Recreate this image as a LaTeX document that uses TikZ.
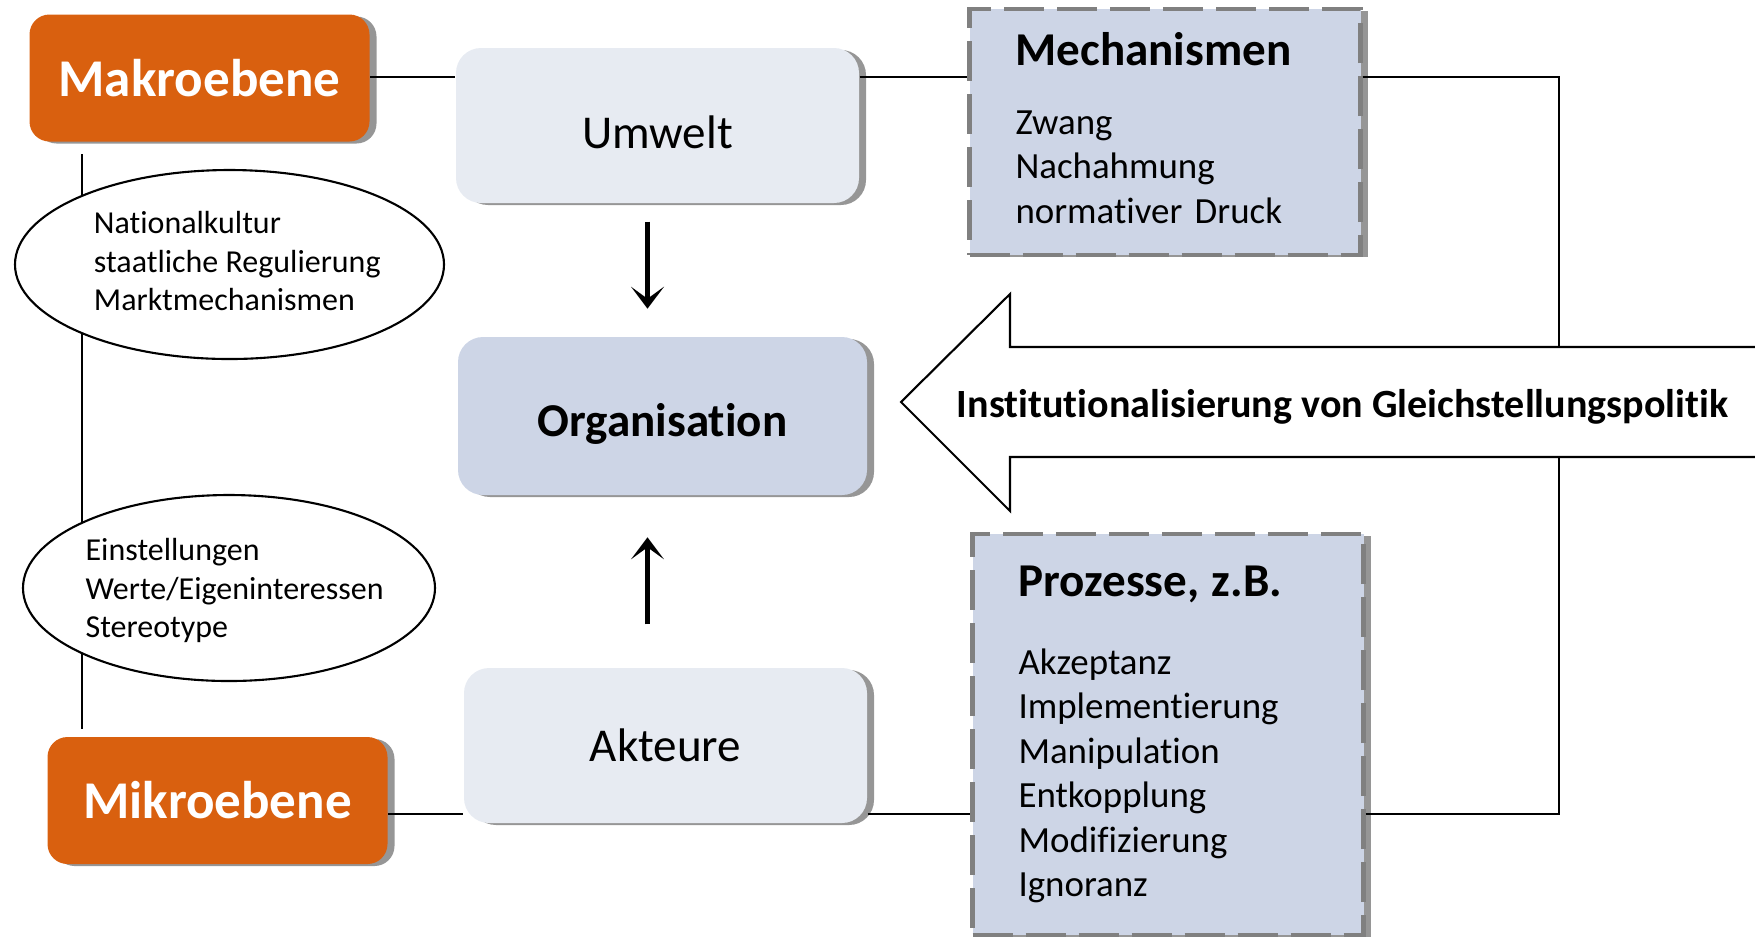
\documentclass[tikz,border=0pt]{standalone}
\usepackage{fontspec}
\setmainfont{Carlito}[Ligatures=NoCommon]
\usepackage{tikz}
\usetikzlibrary{shapes.geometric, arrows.meta, positioning, calc, shadows}
\definecolor{myorange}{RGB}{217,96,15}
\definecolor{mylight}{RGB}{231,235,242}
\definecolor{myblue}{RGB}{205,213,230}
\definecolor{mygray}{RGB}{128,128,128}
\definecolor{myshadow}{RGB}{150,150,150}
\tikzset{
  boxshadow/.style={drop shadow={shadow xshift=0.7mm, shadow yshift=-0.2mm,
    fill=myshadow, opacity=1}},
  levelbox/.style={rectangle, fill=myorange, text=white,
    minimum width=3.4cm, minimum height=1.27cm, inner sep=0pt,
    font=\fontsize{15.1}{18}\selectfont\bfseries, rounded corners=2mm, boxshadow},
  lightbox/.style={rectangle, fill=mylight,
    minimum width=4.03cm, minimum height=1.55cm, inner sep=0pt,
    font=\fontsize{13.4}{16}\selectfont, rounded corners=2.5mm, boxshadow},
  orgbox/.style={lightbox, fill=myblue, minimum width=4.09cm, minimum height=1.58cm,
    font=\fontsize{13.4}{16}\selectfont\bfseries},
  dashbox/.style={rectangle, fill=myblue, draw=mygray, line width=1.15pt,
    dash pattern=on 4mm off 1.3mm, align=left, text width=2.99cm,
    inner xsep=0.46cm, inner ysep=0pt, minimum width=3.91cm,
    font=\fontsize{10.5}{12.65}\selectfont, boxshadow},
  noteell/.style={ellipse, draw=black, fill=white, line width=0.6pt,
    inner xsep=-1mm, inner ysep=0pt, font=\fontsize{9.1}{11}\selectfont},
  line/.style={line width=0.6pt, color=black},
  flow/.style={-{Stealth[length=2.2mm, width=3.3mm, inset=1.2mm]}, line width=1.4pt},
  bigarrow/.style={line width=0.6pt, fill=white, line join=miter}
}
\newcommand{\boxtitle}[1]{{\fontsize{13.4}{16}\selectfont\bfseries #1}}

\begin{document}
\begin{tikzpicture}
  \useasboundingbox (0,0) rectangle (17.55,-9.37);

  % Ebenen links
  \node[levelbox] (makro) at (1.995,-0.78) {Makroebene};
  \node[levelbox] (mikro) at (2.175,-8.005) {Mikroebene};

  % mittlere Spalte
  \node[lightbox, text height=4.6mm, text depth=0pt] (umwelt) at (6.575,-1.255) {Umwelt};
  \node[orgbox, text height=4.9mm] (orga) at (6.625,-4.16) {Organisation};
  \node[lightbox] (akteure) at (6.655,-7.455) {Akteure};

  % gestrichelte Kaesten rechts
  \node[dashbox, minimum height=2.46cm] (mech) at (11.65,-1.32)
    {\boxtitle{Mechanismen}\\[7pt] Zwang\\ Nachahmung\\ normativer Druck\rule[-2.4pt]{0pt}{0pt}};
  \node[dashbox, minimum height=4.01cm] (proz) at (11.68,-7.345)
    {\boxtitle{Prozesse, z.B.}\\[9.5pt] Akzeptanz\\ Implementierung\\ Manipulation\\
     Entkopplung\\ Modifizierung\\ Ignoranz};

  % senkrechte Linie zwischen den Ebenen, Ellipsen liegen darueber
  \coordinate (vx) at (0.82,0);
  \draw[line] ($(makro.south -| vx)+(0,-0.12)$) -- ($(mikro.north -| vx)+(0,0.07)$);
  \node[noteell, minimum width=4.29cm, minimum height=1.89cm] (kultur) at (2.295,-2.645)
    {\begin{tabular}{@{\hspace{1.56mm}}l@{}}
       Nationalkultur\\ staatliche Regulierung\\ Marktmechanismen
     \end{tabular}};
  \node[noteell, minimum width=4.12cm, minimum height=1.86cm] (werte) at (2.29,-5.88)
    {\begin{tabular}{@{\hspace{1.12mm}}l@{}}
       \rule{0pt}{9.7pt}Einstellungen\\ Werte/Eigeninteressen\\ Stereotype
     \end{tabular}};

  % grosser Pfeil
  \draw[bigarrow] (17.7,-3.47) -- (10.10,-3.47) -- (10.10,-2.94) -- (9.01,-4.02)
    -- (10.10,-5.11) -- (10.10,-4.57) -- (17.7,-4.57);
  \coordinate (shafttop) at (15.59,-3.47);
  \coordinate (shaftbot) at (15.59,-4.57);
  \node[font=\fontsize{11.4}{14}\selectfont\bfseries] (inst) at (13.425,-4.065)
    {Institutionalisierung von Gleichstellungspolitik};

  % Verbindungen
  \coordinate (topy) at (0,-0.77);
  \coordinate (lowy) at (0,-8.14);
  \draw[line] (makro.east |- topy) -- (umwelt.west |- topy);
  \draw[line] (umwelt.east |- topy) -- (mech.west |- topy);
  \draw[line] (mech.east |- topy) -| (shafttop);
  \draw[line] (mikro.east |- lowy) -- (akteure.west |- lowy);
  \draw[line] (akteure.east |- lowy) -- (proz.west |- lowy);
  \draw[line] (proz.east |- lowy) -| (shaftbot);

  % Pfeile zur Organisation
  \draw[flow] ([xshift=-1mm,yshift=-1.8mm]umwelt.south) -- ++(0,-0.87);
  \draw[flow] ([xshift=-1.8mm,yshift=4.3mm]akteure.north) -- ++(0,0.87);
\end{tikzpicture}
\end{document}
